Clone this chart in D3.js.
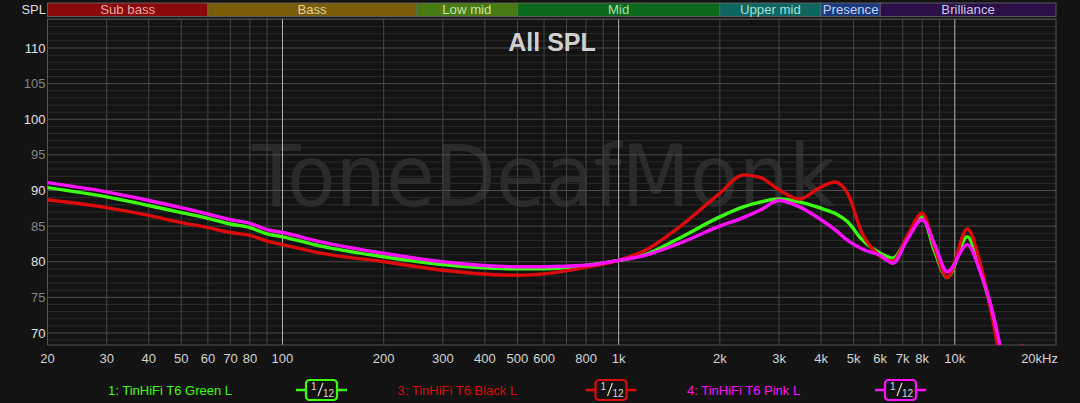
<!DOCTYPE html>
<html><head><meta charset="utf-8">
<script src="https://cdn.jsdelivr.net/npm/d3@7"></script>
<style>
html,body{margin:0;padding:0;background:#131313;}
svg{display:block;font-family:"Liberation Sans",Arial,Helvetica,sans-serif;}
</style></head>
<body><svg id="c" width="1080" height="403"></svg>
<script>
// ---- data ----
const freqs = [20,30,40,50,60,70,80,90,100,130,200,300,500,600,800,1000,1200,1500,2000,2350,2650,3000,3450,4000,4400,4800,5300,6000,6550,7200,8000,8700,9500,10900,11900,12700,13500,14500,15900,17000];
const green = [90.4,89.1,87.9,86.9,86.1,85.3,84.8,83.9,83.5,82.2,80.7,79.6,79.0,79.0,79.5,80.2,81.0,83.2,86.3,87.7,88.4,88.8,88.4,87.5,86.8,85.6,83.1,81.2,80.5,83.3,86.3,81.5,77.8,83.5,78.8,74.2,68.6,61,57,55];
const black = [88.7,87.6,86.5,85.5,84.8,84.1,83.7,82.9,82.4,81.2,80.0,78.8,78.1,78.3,79.2,80.2,81.6,84.7,89.6,92.2,91.8,90.1,88.8,90.5,91.2,89.6,84.0,80.8,80.1,83.5,86.8,82.0,77.8,84.6,79.8,74.0,67.5,60,68.3,60];
const pink  = [91.1,89.8,88.6,87.6,86.7,85.9,85.4,84.5,84.1,82.8,81.2,80.0,79.3,79.3,79.5,80.2,80.9,82.5,85.0,86.2,87.3,88.6,87.7,85.9,84.5,83.0,81.8,80.9,79.8,83.0,85.9,82.5,78.6,82.4,78.6,74.5,69.2,62,57,55];
const seriesNames = ["1: TinHiFi T6 Green L","3: TinHiFi T6 Black L","4: TinHiFi T6 Pink L"];
const seriesColors = ["#3cff14","#dd0b0b","#ff10ff"];
const xTicks = [20,30,40,50,60,70,80,100,200,300,400,500,600,800,1000,2000,3000,4000,5000,6000,7000,8000,10000,20000];
const xTickLabels = ["20","30","40","50","60","70","80","100","200","300","400","500","600","800","1k","2k","3k","4k","5k","6k","7k","8k","10k","20kHz"];
const xGrid = [30,40,50,60,70,80,90,100,200,300,400,500,600,700,800,900,1000,2000,3000,4000,5000,6000,7000,8000,9000,10000];
const yTicks = [70,75,80,85,90,95,100,105,110];
const bandNames = ["Sub bass","Bass","Low mid","Mid","Upper mid","Presence","Brilliance"];
const bandEdges = [20,60,250,500,2000,4000,6000,20000];
const bandColors = ["#8a0a0b","#7c5c08","#4a7a14","#0c6a1c","#0e6660","#1b3a7c","#2a0f48"];
const bandText = ["#e8a8a8","#e4cc98","#c8e4a8","#a8e0a8","#a8e0d8","#c0d0f4","#d0c0ec"];

// ---- layout ----
const svg = d3.select("#c");
const L = 47.5, R = 1056, T = 19, B = 345;
const x = d3.scaleLog().domain([20,20000]).range([L,R]);
const y = d3.scaleLinear().domain([70,110]).range([333,48]);
const yMin = y.invert(B), yMax = y.invert(T);

svg.append("rect").attr("width",1080).attr("height",403).attr("fill","#131313");

// watermark
svg.append("text").attr("x",252).attr("y",206)
  .attr("textLength",583).attr("lengthAdjust","spacingAndGlyphs")
  .attr("font-family","'DejaVu Sans',sans-serif").attr("font-size",86)
  .attr("fill","#2b2b2b").text("ToneDeafMonk");

// horizontal grid
const g = svg.append("g");
for (let v = Math.ceil(yMin); v <= Math.floor(yMax); v++) {
  g.append("line").attr("x1",L).attr("x2",R).attr("y1",y(v)).attr("y2",y(v))
   .attr("stroke", v%5===0 ? "#4c4c4c" : "#2c2c2c").attr("stroke-width",1);
}
// vertical grid
xGrid.forEach(f=>{
  const bright = (f===100||f===1000||f===10000);
  g.append("line").attr("x1",x(f)).attr("x2",x(f)).attr("y1",T).attr("y2",B)
   .attr("stroke", bright ? "#b4b4b4" : "#454545").attr("stroke-width",1);
});
// frame
svg.append("rect").attr("x",L).attr("y",T).attr("width",R-L).attr("height",B-T)
  .attr("fill","none").attr("stroke","#555").attr("stroke-width",1);

// title
svg.append("text").attr("x",552).attr("y",51).attr("text-anchor","middle")
  .attr("font-size",25).attr("font-weight","bold").attr("fill","#cfcfcf").text("All SPL");

// bands
const bg = svg.append("g");
bandNames.forEach((n,i)=>{
  const x0 = x(bandEdges[i]), x1 = x(bandEdges[i+1]);
  bg.append("rect").attr("x",x0).attr("y",3).attr("width",x1-x0).attr("height",13.5)
    .attr("fill",bandColors[i]).attr("stroke","#6a6a6a").attr("stroke-width",0.8);
  bg.append("text").attr("x",(x0+x1)/2).attr("y",14.3).attr("text-anchor","middle")
    .attr("font-size",13.2).attr("fill",bandText[i]).text(n);
});
svg.append("text").attr("x",46).attr("y",14).attr("text-anchor","end")
  .attr("font-size",13).attr("fill","#dcdcdc").text("SPL");

// y labels
yTicks.forEach(v=>{
  svg.append("text").attr("x",45.5).attr("y",y(v)+4.5).attr("text-anchor","end")
    .attr("font-size",13).attr("fill", v%10===0 ? "#e2e2e2" : "#858585").text(v);
});
// x labels
xTicks.forEach((f,i)=>{
  const last = i===xTicks.length-1;
  svg.append("text").attr("x", last ? 1058 : x(f)).attr("y",363)
    .attr("text-anchor", last ? "end" : "middle")
    .attr("font-size",13).attr("fill","#d4d4d4").text(xTickLabels[i]);
});

// curves
svg.append("clipPath").attr("id","clip").append("rect")
  .attr("x",L).attr("y",T).attr("width",R-L).attr("height",B-T);
const line = d3.line().x(d=>x(d[0])).y(d=>y(d[1])).curve(d3.curveMonotoneX);
const cg = svg.append("g").attr("clip-path","url(#clip)");
[green,black,pink].forEach((s,i)=>{
  cg.append("path").attr("d",line(freqs.map((f,j)=>[f,s[j]])))
    .attr("fill","none").attr("stroke",seriesColors[i]).attr("stroke-width",3.4)
    .attr("stroke-linejoin","round").attr("stroke-linecap","round");
});

// legend
const lg = svg.append("g");
seriesNames.forEach((n,i)=>{
  const ox = i*289.5;
  lg.append("text").attr("x",108+ox).attr("y",395).attr("font-size",13)
    .attr("fill",seriesColors[i]).text(n);
  const cx = 321+ox, cy = 390;
  lg.append("line").attr("x1",cx-25).attr("x2",cx+26).attr("y1",cy).attr("y2",cy)
    .attr("stroke",seriesColors[i]).attr("stroke-width",2.5);
  lg.append("rect").attr("x",cx-15).attr("y",cy-10).attr("width",31).attr("height",20).attr("rx",3.5)
    .attr("fill","#131313").attr("stroke",seriesColors[i]).attr("stroke-width",2.2);
  lg.append("text").attr("x",cx-10).attr("y",cy-0.5).attr("font-size",10).attr("fill","#d8d8d8").text("1");
  lg.append("line").attr("x1",cx-3).attr("x2",cx+2).attr("y1",cy+6).attr("y2",cy-7)
    .attr("stroke","#d8d8d8").attr("stroke-width",1.2);
  lg.append("text").attr("x",cx+2).attr("y",cy+7).attr("font-size",10).attr("fill","#d8d8d8").text("12");
});
</script></body></html>
